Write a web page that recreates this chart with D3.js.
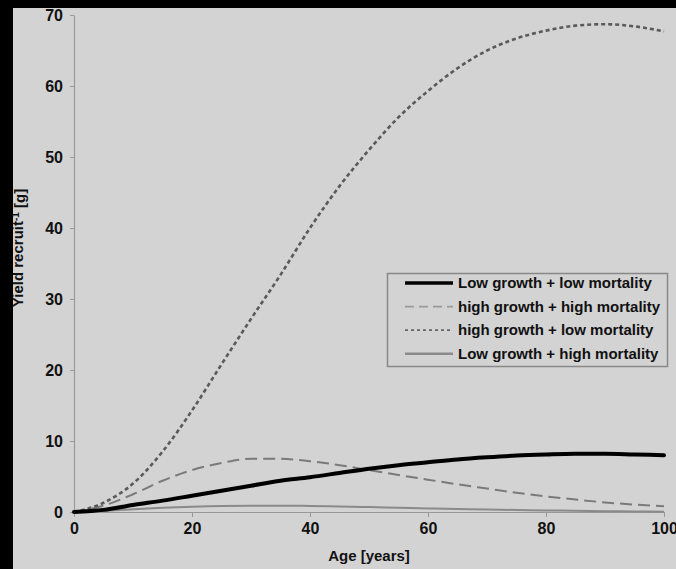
<!DOCTYPE html>
<html>
<head>
<meta charset="utf-8">
<script src="https://cdn.jsdelivr.net/npm/d3@7/dist/d3.min.js"></script>
<style>
  html, body { margin: 0; padding: 0; background: #000; }
  svg { display: block; }
</style>
</head>
<body>
<script>
// ---- data ----
const ages = [0,5,10,15,20,25,30,35,40,45,50,55,60,65,70,75,80,85,90,95,100];
const lowGrowthLowMort   = [0,0.3,1.0,1.6,2.3,3.0,3.7,4.4,4.9,5.5,6.1,6.6,7.0,7.4,7.7,7.95,8.1,8.2,8.2,8.1,8.0];
const highGrowthHighMort = [0,0.9,2.5,4.4,5.9,6.9,7.5,7.5,7.15,6.6,5.9,5.2,4.55,3.9,3.3,2.7,2.2,1.75,1.35,1.05,0.8];
const highGrowthLowMort  = [0,1.3,4.0,8.5,14.3,20.8,27.2,33.4,40.0,45.9,51.0,55.6,59.3,62.5,65.0,66.7,67.8,68.5,68.7,68.4,67.7];
const lowGrowthHighMort  = [0,0.15,0.4,0.6,0.75,0.85,0.88,0.88,0.85,0.78,0.7,0.6,0.5,0.42,0.35,0.28,0.22,0.17,0.12,0.08,0.05];
const seriesNames = ["Low growth + low mortality","high growth + high mortality","high growth + low mortality","Low growth + high mortality"];
const xTicks = [0,20,40,60,80,100];
const yTicks = [0,10,20,30,40,50,60,70];
const xTitle = "Age [years]";

// ---- styles ----
const styles = [
  {stroke:"#000", width:4, dash:null},
  {stroke:"#7a7a7a", width:2, dash:"12,6"},
  {stroke:"#5a5a5a", width:2.6, dash:"4,3"},
  {stroke:"#8a8a8a", width:2, dash:null}
];
const legendStyles = [
  {stroke:"#000", width:3.5, dash:null},
  {stroke:"#9a9a9a", width:1.6, dash:"9,5"},
  {stroke:"#666", width:1.8, dash:"3,3"},
  {stroke:"#8a8a8a", width:2.5, dash:null}
];

const W = 676, H = 569;
const svg = d3.select("body").append("svg").attr("width", W).attr("height", H);

svg.append("rect").attr("x",13).attr("y",8).attr("width",W-13).attr("height",H-8).attr("fill","#d3d3d3");

const x = d3.scaleLinear().domain([0,100]).range([74,664]);
const y = d3.scaleLinear().domain([0,70]).range([512,15]);

// axes
const xAxis = svg.append("g").attr("transform","translate(0,512)")
  .call(d3.axisBottom(x).tickValues(xTicks).tickSize(5).tickPadding(6).tickSizeOuter(0));
const yAxis = svg.append("g").attr("transform","translate(74,0)")
  .call(d3.axisLeft(y).tickValues(yTicks).tickSize(4).tickPadding(7).tickSizeOuter(0));
[xAxis,yAxis].forEach(g => {
  g.select(".domain").attr("stroke","#999").attr("stroke-width",1.2);
  g.selectAll(".tick line").attr("stroke","#999").attr("stroke-width",1);
  g.selectAll(".tick text").attr("fill","#111")
    .style("font-family","'Liberation Sans', Arial, sans-serif")
    .style("font-weight","bold").style("font-size","16px");
});

// lines
const series = [lowGrowthLowMort, highGrowthHighMort, highGrowthLowMort, lowGrowthHighMort];
const line = d3.line().x(d => x(d[0])).y(d => y(d[1])).curve(d3.curveMonotoneX);
const drawOrder = [3,1,2,0];
drawOrder.forEach(i => {
  const pts = ages.map((a,k) => [a, series[i][k]]);
  svg.append("path").datum(pts).attr("d", line)
    .attr("fill","none").attr("stroke", styles[i].stroke)
    .attr("stroke-width", styles[i].width)
    .attr("stroke-dasharray", styles[i].dash)
    .attr("stroke-linecap", i===0 ? "round" : "butt");
});

// legend
const lg = svg.append("g");
lg.append("rect").attr("x",387.5).attr("y",273.5).attr("width",280).attr("height",93)
  .attr("fill","#d3d3d3").attr("stroke","#888").attr("stroke-width",1.5);
seriesNames.forEach((name,i) => {
  const cy = 283 + i*23.6;
  lg.append("line").attr("x1",405).attr("x2",453).attr("y1",cy).attr("y2",cy)
    .attr("stroke",legendStyles[i].stroke).attr("stroke-width",legendStyles[i].width)
    .attr("stroke-dasharray",legendStyles[i].dash);
  lg.append("text").attr("x",458).attr("y",cy).attr("dy","0.35em")
    .attr("fill","#111")
    .style("font-family","'Liberation Sans', Arial, sans-serif")
    .style("font-weight","bold").style("font-size","15px")
    .text(name);
});

// axis titles
svg.append("text").attr("x",369).attr("y",561).attr("text-anchor","middle")
  .attr("fill","#111")
  .style("font-family","'Liberation Sans', Arial, sans-serif")
  .style("font-weight","bold").style("font-size","15px")
  .text(xTitle);

const yt = svg.append("text").attr("transform","translate(23,248) rotate(-90)")
  .attr("text-anchor","middle").attr("fill","#111")
  .style("font-family","'Liberation Sans', Arial, sans-serif")
  .style("font-weight","bold").style("font-size","15px");
yt.append("tspan").text("Yield recruit");
yt.append("tspan").attr("dy","-0.45em").style("font-size","10px").text("-1");
yt.append("tspan").attr("dy","0.45em").text(" [g]");

// black frame strips
svg.append("rect").attr("x",0).attr("y",0).attr("width",W).attr("height",8).attr("fill","#000");
svg.append("rect").attr("x",0).attr("y",0).attr("width",13).attr("height",H).attr("fill","#000");
</script>
</body>
</html>
